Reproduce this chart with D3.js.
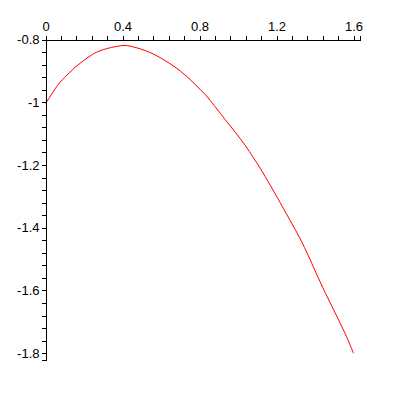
<!DOCTYPE html>
<html>
<head>
<meta charset="utf-8">
<script src="https://cdn.jsdelivr.net/npm/d3@7"></script>
<style>
  html, body { margin: 0; padding: 0; background: #fff; }
  svg { display: block; }
  .axis text { font-family: "Liberation Sans", Arial, sans-serif; font-size: 13px; fill: #000; }
</style>
</head>
<body>
<div id="chart"></div>
<script>
// Curve samples
const xValues = [0, 0.023, 0.049, 0.075, 0.101, 0.127, 0.153, 0.179, 0.205, 0.231, 0.257, 0.283, 0.318, 0.370, 0.413, 0.465, 0.517, 0.569, 0.621, 0.673, 0.725, 0.777, 0.829, 0.881, 0.933, 0.985, 1.037, 1.080, 1.115, 1.167, 1.219, 1.271, 1.323, 1.366, 1.401, 1.453, 1.505, 1.557, 1.600];
const yValues = [-1.004, -0.983, -0.958, -0.937, -0.920, -0.904, -0.889, -0.876, -0.864, -0.853, -0.843, -0.836, -0.829, -0.822, -0.819, -0.825, -0.835, -0.849, -0.867, -0.888, -0.913, -0.943, -0.975, -1.014, -1.055, -1.095, -1.137, -1.177, -1.210, -1.264, -1.320, -1.377, -1.435, -1.490, -1.538, -1.607, -1.672, -1.738, -1.800];

// Tick labels
const xTickValues = [0, 0.4, 0.8, 1.2, 1.6];
const xTickLabels = ["0", "0.4", "0.8", "1.2", "1.6"];
const yTickValues = [-0.8, -1, -1.2, -1.4, -1.6, -1.8];
const yTickLabels = ["-0.8", "-1", "-1.2", "-1.4", "-1.6", "-1.8"];
const xMinorValues = d3.range(0, 21).map(i => +(i * 0.08).toFixed(2));
const yMinorValues = d3.range(0, 26).map(i => +(-0.8 - i * 0.04).toFixed(2));

const W = 400, H = 400;
const svg = d3.select("#chart").append("svg").attr("width", W).attr("height", H);
svg.append("rect").attr("width", W).attr("height", H).attr("fill", "#fff");

const x = d3.scaleLinear().domain([0, 1.6]).range([45.5, 353.5]);
const y = d3.scaleLinear().domain([-0.8, -1.8]).range([39.5, 353.2]);

// axis scales extend slightly past the last labelled tick, as in the reference
const xAxisScale = x.copy().domain([0, x.invert(359.5)]).range([45.5, 359.5]);
const yAxisScale = y.copy().domain([-0.8, y.invert(359.5)]).range([39.5, 359.5]);

// curve
const pts = xValues.map((v, i) => [v, yValues[i]]);
svg.append("path")
  .datum(pts)
  .attr("fill", "none")
  .attr("stroke", "#ff0000")
  .attr("stroke-width", 1)
  .attr("d", d3.line().curve(d3.curveCatmullRom).x(d => x(d[0])).y(d => y(d[1])));

// x axis (top)
const gx = svg.append("g").attr("class", "axis").attr("transform", "translate(0,39.5)");
gx.call(d3.axisTop(xAxisScale).tickValues(xMinorValues).tickFormat("").tickSize(4).tickSizeOuter(4));
const gxl = svg.append("g").attr("class", "axis").attr("transform", "translate(0,39.5)");
gxl.call(d3.axisTop(xAxisScale).tickValues(xTickValues).tickSize(4).tickPadding(5)
  .tickFormat((d, i) => xTickLabels[i]));
gxl.select(".domain").remove();

// y axis (left)
const gy = svg.append("g").attr("class", "axis").attr("transform", "translate(45.5,0)");
gy.call(d3.axisLeft(yAxisScale).tickValues(yMinorValues).tickFormat("").tickSize(4).tickSizeOuter(4));
const gyl = svg.append("g").attr("class", "axis").attr("transform", "translate(45.5,0)");
gyl.call(d3.axisLeft(yAxisScale).tickValues(yTickValues).tickSize(4).tickPadding(2)
  .tickFormat((d, i) => yTickLabels[i]));
gyl.select(".domain").remove();

svg.selectAll(".axis line, .axis path").attr("stroke", "#000").attr("shape-rendering", "crispEdges");
</script>
</body>
</html>
